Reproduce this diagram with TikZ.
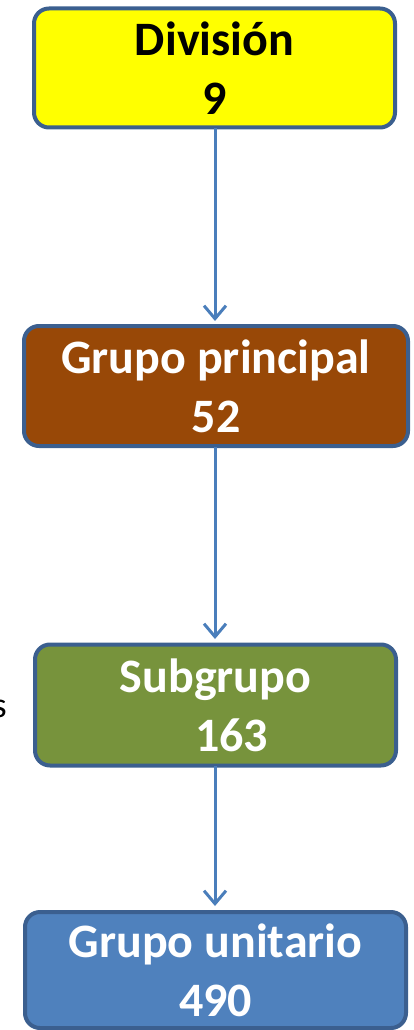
\documentclass[tikz,border=0pt]{standalone}
\usepackage{fontspec}
\setmainfont{Carlito}
\usetikzlibrary{arrows.meta}
\definecolor{bordc}{HTML}{3B5F8F}
\definecolor{arrc}{HTML}{4A7EBB}
\definecolor{yel}{HTML}{FFFF00}
\definecolor{brn}{HTML}{984807}
\definecolor{grn}{HTML}{77933C}
\definecolor{blu}{HTML}{4F81BD}
\tikzset{
  box/.style={draw=bordc, line width=4pt, rounded corners=15pt, align=center,
    inner sep=0pt, font=\fontsize{48}{59}\selectfont\bfseries},
  arr/.style={draw=arrc, line width=3pt,
    -{Straight Barb[length=13pt,width=22pt,line width=3pt]}},
}
\begin{document}
\begin{tikzpicture}[x=1pt,y=-1pt]
\useasboundingbox (0,0) rectangle (413,1030);
\node[box, fill=yel, text=black, minimum width=361pt, minimum height=119pt] (div) at (214.5,68) {División\\9};
\node[box, fill=brn, text=white, minimum width=384pt, minimum height=120pt] (gp) at (216,386) {Grupo principal\\52};
\node[box, fill=grn, text=white, minimum width=361pt, minimum height=121pt] (sub) at (215.5,705) {Subgrupo\\\hspace*{32pt}163};
\node[box, fill=blu, text=white, minimum width=381pt, minimum height=116pt] (gu) at (215.5,970) {Grupo unitario\\490};
\node[anchor=base east, inner sep=0pt, font=\fontsize{36}{40}\selectfont] (s) at (7,717) {s};
\draw[arr] (215,128) -- (215,321);
\draw[arr] (215,447) -- (215,639);
\draw[arr] (215,766) -- (215,906);
\end{tikzpicture}
\end{document}
